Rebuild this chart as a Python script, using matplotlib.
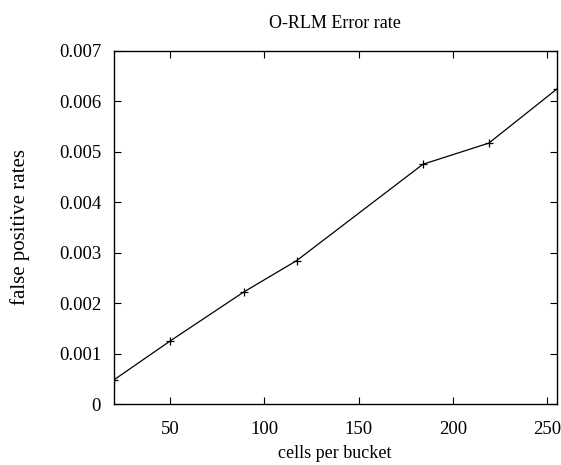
import numpy as np
from matplotlib import pyplot as plt

cells = [20, 50, 89, 117, 184, 219, 255]
fp_rate = [0.000475, 0.00125, 0.00222, 0.00284, 0.00475, 0.00517, 0.00624]
xticks = [50, 100, 150, 200, 250]
yticks = [0, 0.001, 0.002, 0.003, 0.004, 0.005, 0.006, 0.007]
ytick_labels = ['0', '0.001', '0.002', '0.003', '0.004', '0.005', '0.006', '0.007']

plt.rcParams['font.family'] = ['Liberation Serif', 'DejaVu Serif']

fig = plt.figure(figsize=(5.61, 4.65), dpi=100)
ax = fig.add_axes([0.2025, 0.131, 0.79, 0.76])
ax.plot(cells, fp_rate, color='black', linewidth=0.9, marker='+',
        markersize=6, markeredgewidth=0.9)

ax.set_xlim(20, 255)
ax.set_ylim(0, 0.007)
ax.set_xticks(xticks)
ax.set_yticks(yticks)
ax.set_yticklabels(ytick_labels)
ax.tick_params(direction='in', top=True, right=True, length=5, width=0.8,
               labelsize=13.5)
ax.tick_params(axis='x', pad=12)
ax.tick_params(axis='y', pad=9)
for s in ax.spines.values():
    s.set_linewidth(1.0)

ax.set_title('O-RLM Error rate', fontsize=13, pad=16)
ax.set_xlabel('cells per bucket', fontsize=13)
ax.xaxis.set_label_coords(0.5, -0.117)
ax.set_ylabel('false positive rates', fontsize=15)
ax.yaxis.set_label_coords(-0.188, 0.5)

fig.savefig('out.png', dpi=100)
